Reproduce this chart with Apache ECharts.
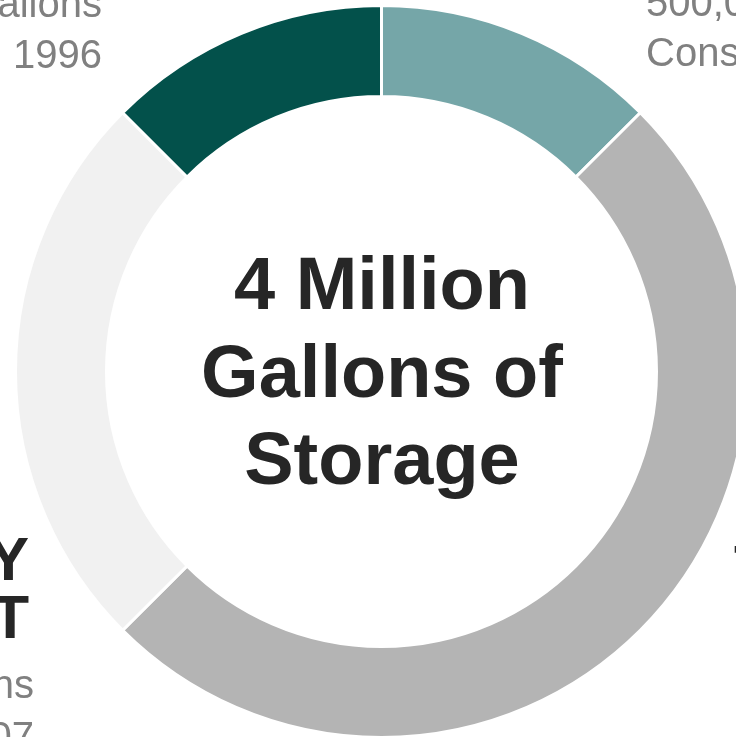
<!DOCTYPE html>
<html>
<head>
<meta charset="utf-8">
<script src="https://cdn.jsdelivr.net/npm/echarts@6/dist/echarts.min.js"></script>
<style>
html,body{margin:0;padding:0;background:#fff;}
#c{width:736px;height:737px;}
</style>
</head>
<body>
<div id="c"></div>
<script>
var categories = ['North Tower', 'East Tank', 'South Facility', 'West Tower'];
var values = [500000, 2000000, 1000000, 500000];
var colors = ['#75A6A8', '#B4B4B4', '#F1F1F1', '#03514B'];
var centerLines = ['4 Million', 'Gallons of', 'Storage'];
var labelTopLeft = ['500,000 Gallons', 'Constructed 1996'];
var labelTopRight = ['500,000 Gallons', 'Constructed 2015'];
var labelLeftBold = ['SOUTH FACILITY', 'CLEARWELL EAST'];
var labelLeftGray = ['1,000,000 Gallons', 'Constructed 2007'];
var labelRightBold = ['TOWER TANK', 'COUNTY ROAD'];
var labelRightGray = ['2,000,000 Gallons', 'Constructed 2010'];

var FONT = '"Liberation Sans", Arial, sans-serif';
var gray = '#808080', dark = '#262626';

function txt(str, x, y, size, weight, color, align) {
  return {
    type: 'text', x: x, y: y, silent: true,
    style: { text: str, fontFamily: FONT, fontSize: size, fontWeight: weight,
             fill: color, align: align, verticalAlign: 'middle' }
  };
}

var g = [];
var cy = [289, 377, 464];
centerLines.forEach(function (s, i) { g.push(txt(s, 382, cy[i], 74, 'bold', dark, 'center')); });
labelTopLeft.forEach(function (s, i) { g.push(txt(s, 102, [6, 57][i], 40, 'normal', gray, 'right')); });
labelTopRight.forEach(function (s, i) { g.push(txt(s, 646, [5, 55][i], 40, 'normal', gray, 'left')); });
labelLeftBold.forEach(function (s, i) { g.push(txt(s, 29, [563, 621][i], 62, 'bold', dark, 'right')); });
labelLeftGray.forEach(function (s, i) { g.push(txt(s, 34, [687, 739][i], 40, 'normal', gray, 'right')); });
labelRightBold.forEach(function (s, i) { g.push(txt(s, 734, [571, 628][i], 62, 'bold', dark, 'left')); });
labelRightGray.forEach(function (s, i) { g.push(txt(s, 734, [694, 746][i], 40, 'normal', gray, 'left')); });

var chart = echarts.init(document.getElementById('c'), null, { renderer: 'canvas' });
chart.setOption({
  animation: false,
  backgroundColor: '#fff',
  series: [{
    type: 'pie',
    center: [381.5, 371.5],
    radius: [275, 366],
    startAngle: 90,
    clockwise: true,
    silent: true,
    label: { show: false },
    labelLine: { show: false },
    itemStyle: { borderColor: '#fff', borderWidth: 3 },
    data: categories.map(function (c, i) {
      return { name: c, value: values[i], itemStyle: { color: colors[i] } };
    })
  }],
  graphic: g
});
</script>
</body>
</html>
